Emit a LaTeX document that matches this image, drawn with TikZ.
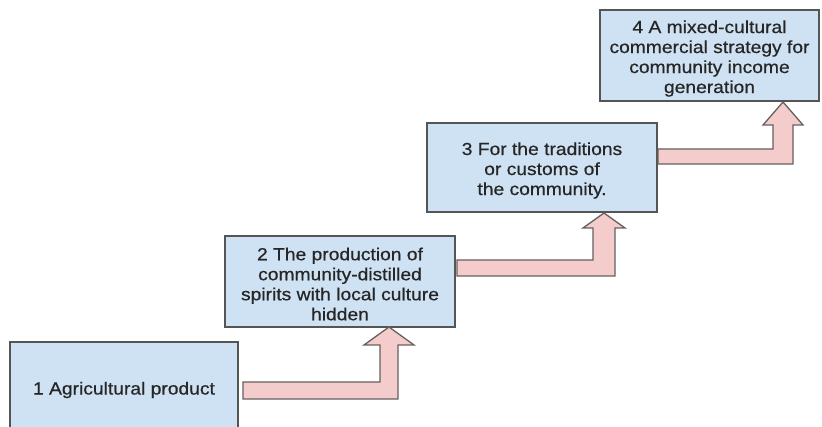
\documentclass[tikz,border=0pt]{standalone}
\usepackage{fontspec}
\setmainfont[FakeStretch=1.1,FakeBold=0.6]{Liberation Sans}
\definecolor{boxfill}{HTML}{CFE2F3}
\definecolor{boxline}{HTML}{555555}
\definecolor{textcol}{HTML}{262626}
\definecolor{arrfill}{HTML}{F4CCCC}
\definecolor{arrline}{HTML}{675F5F}
\begin{document}
\begin{tikzpicture}[x=1pt,y=-1pt,
  stepbox/.style={draw=boxline, fill=boxfill, line width=1.3pt, rectangle, inner sep=0pt},
  steptext/.style={align=center, text=textcol, inner sep=0pt, font=\fontsize{17.5}{20}\selectfont},
  blockarrow/.style={draw=arrline, fill=arrfill, line width=1.3pt, line join=miter}]
\useasboundingbox (0,0) rectangle (822,427);
\clip (0,0) rectangle (822,427);
\node[stepbox, minimum width=228pt, minimum height=92pt] (b1) at (124,388) {};
\node[stepbox, minimum width=230pt, minimum height=91pt] (b2) at (340,281.5) {};
\node[stepbox, minimum width=230pt, minimum height=89pt] (b3) at (542,167.5) {};
\node[stepbox, minimum width=219pt, minimum height=91pt] (b4) at (709.5,55.5) {};
\node[steptext] (t1) at ([yshift=-2pt]b1.center) {1 Agricultural product};
\node[steptext] (t2) at ([yshift=-2.5pt]b2.center) {2 The production of\\community-distilled\\spirits with local culture\\hidden};
\node[steptext] (t3) at ([yshift=-3pt]b3.center) {3 For the traditions\\or customs of\\the community.};
\node[steptext] (t4) at ([yshift=-3pt]b4.center) {4 A mixed-cultural\\commercial strategy for\\community income\\generation};
% block arrows
\draw[blockarrow] (243,382)--(380,382)--(380,345)--(364,345)--(389,327)--(414,345)--(398,345)--(398,399)--(243,399)--cycle;
\draw[blockarrow] (457,260)--(593,260)--(593,228)--(583,228)--(604,213)--(625,228)--(615,228)--(615,276)--(457,276)--cycle;
\draw[blockarrow] (658,149)--(773,149)--(773,125)--(763,125)--(783,102)--(803,125)--(793,125)--(793,164)--(658,164)--cycle;
\end{tikzpicture}
\end{document}
